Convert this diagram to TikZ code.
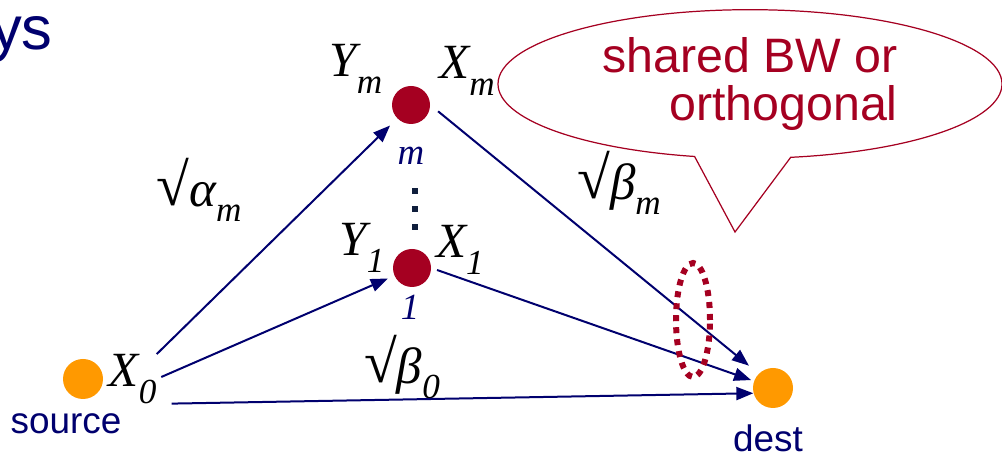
\documentclass[tikz,border=0pt]{standalone}
\usepackage{fontspec}
\setmainfont{Liberation Sans}
\newfontfamily\tms{Liberation Serif}
\usepackage{tikz}
\usetikzlibrary{arrows.meta,positioning,shapes.geometric,shapes.callouts}

\definecolor{navy}{RGB}{0,0,110}
\definecolor{relayred}{RGB}{165,0,33}
\definecolor{srcorange}{RGB}{255,153,0}
\definecolor{dotblue}{RGB}{15,30,60}

% italic letter with a low subscript
\newcommand{\chvar}[2]{{\tms\itshape\fontsize{28}{28}\selectfont #1\raisebox{-0.33cm}{\fontsize{20}{20}\selectfont #2}}}
\newcommand{\gain}[2]{{\tms\fontsize{29}{29}\selectfont \raisebox{0.02cm}{\fontsize{34}{34}\selectfont\char"221A}\itshape #1\raisebox{-0.3cm}{\fontsize{20}{20}\selectfont #2}}}

\tikzset{
  terminal/.style={circle,fill=srcorange,minimum size=0.8cm,inner sep=0},
  relay/.style={circle,fill=relayred,minimum size=0.76cm,inner sep=0},
  link/.style={draw=navy,line width=0.04cm,-{Triangle[length=0.34cm,width=0.26cm]}},
  tag/.style={text=navy,font=\fontsize{21}{21}\selectfont,inner sep=0},
  lbl/.style={inner sep=0},
}

\begin{document}
\begin{tikzpicture}
  \useasboundingbox (0,0) rectangle (20.04,9.10);

  \node[text=navy,font=\fontsize{35}{35}\selectfont,inner sep=0,anchor=base east] (title) at (1.06,8.10) {ys};

  % terminals and relays
  \node[terminal] (src) at (1.66,1.52) {};
  \node[terminal] (dst) at (15.46,1.34) {};
  \node[relay] (rm) at (8.22,7.00) {};
  \node[relay] (r1) at (8.24,3.74) {};

  \node[tag,anchor=base] (srclbl) at (1.32,0.42) {source};
  \node[tag,anchor=base] (dstlbl) at (15.36,0.07) {dest};

  % signal labels
  \node[lbl] (x0) [right=0.1cm of src] {\chvar{X}{0}};
  \node[lbl] (ym) at (7.12,7.72) {\chvar{Y}{m}};
  \node[lbl] (xm) at (9.34,7.68) {\chvar{X}{m}};
  \node[lbl] (y1) at (7.24,4.14) {\chvar{Y}{1}};
  \node[lbl] (x1) at (9.20,4.10) {\chvar{X}{1}};
  \node[lbl,text=navy] (idxm) at (8.22,5.98) {\tms\itshape\fontsize{21}{21}\selectfont m};
  \node[lbl,text=navy] (idx1) at (8.20,2.96) {\tms\itshape\fontsize{21}{21}\selectfont 1};

  % dots between the relays
  \foreach \y in {5.22,4.86,4.50}
    \fill[dotblue] (8.24,\y) rectangle ++(0.12,0.12);

  % gains
  \node[lbl] (alpham) at (3.98,5.30) {\gain{\char"03B1}{m}};
  \node[lbl] (betam) at (12.38,5.44) {\gain{\char"03B2}{m}};
  \node[lbl] (beta0) at (8.04,1.76) {\gain{\char"03B2}{0}};

  % links
  \draw[link,shorten >=0.2cm] (x0.north east) -- (rm);
  \draw[link,shorten <=0.1cm,shorten >=0.14cm] (x0.east) -- (r1);
  \draw[link,shorten <=0.3cm] (x0.south east) -- (dst.195);
  \draw[link,shorten <=0.2cm,shorten >=0.25cm] (rm.east) -- (dst.north west);
  \draw[link,shorten <=0.12cm,shorten >=0.06cm] (r1.east) -- (dst.160);

  % grouping of the two relay links
  \node[ellipse,draw=relayred,line width=0.12cm,dash pattern=on 0.12cm off 0.12cm,
        minimum width=0.68cm,minimum height=2.28cm] (grp) at (13.86,2.70) {};

  % comment bubble
  \coordinate (tip) at (14.70,4.46);
  \node[ellipse callout,draw=relayred,fill=white,line width=0.7pt,
        minimum width=10.08cm,minimum height=2.96cm,
        callout absolute pointer=(tip),callout pointer arc=22,
        text=relayred,align=right,font=\fontsize{27.5}{27.5}\selectfont] (note) at (15.00,7.42)
        {shared BW or\\orthogonal};
\end{tikzpicture}
\end{document}
